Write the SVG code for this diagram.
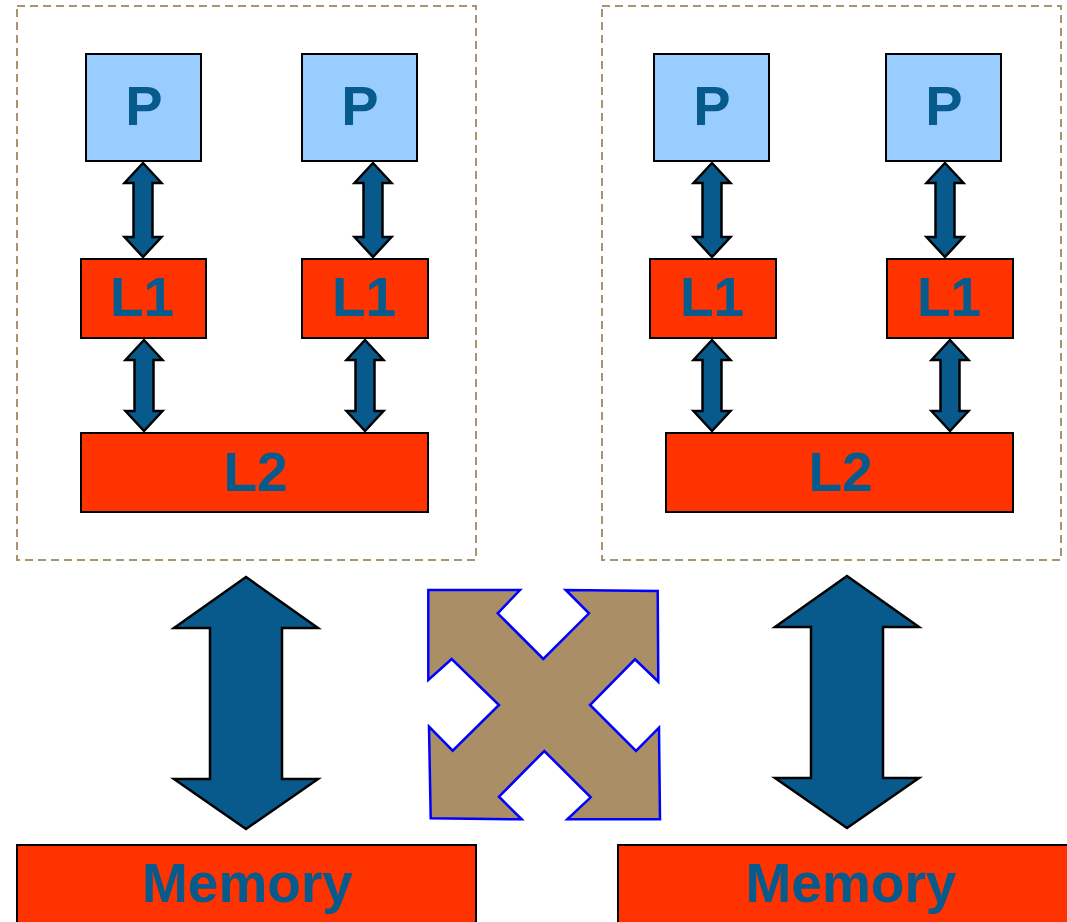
<svg xmlns="http://www.w3.org/2000/svg" xmlns:xlink="http://www.w3.org/1999/xlink" width="1067" height="922" viewBox="0 0 1067 922">
<style>
.cluster{fill:none;stroke:#AA9370;stroke-width:2;stroke-dasharray:8,5}
.p{fill:#99CCFF;stroke:#000;stroke-width:2}
.red{fill:#FF3300;stroke:#000;stroke-width:2}
.t{font-family:"Liberation Sans",Arial,sans-serif;font-weight:bold;fill:#065A8C;text-anchor:middle}
.arr{fill:#085A8C;stroke:#000;stroke-width:2.5;stroke-linejoin:miter}
.cross{fill:#AA8E66;stroke:#0000FF;stroke-width:2.5}
</style>
<defs>
<path id="sa" d="M0,0 L18.5,20 L9.5,20 L9.5,74 L18.5,74 L0,94 L-18.5,74 L-9.5,74 L-9.5,20 L-18.5,20 Z"/>
<path id="sb" d="M0,0 L18.5,20 L9.5,20 L9.5,71 L18.5,71 L0,91 L-18.5,71 L-9.5,71 L-9.5,20 L-18.5,20 Z"/>
<path id="big" d="M0,0 L72,51 L36,51 L36,202 L72,202 L0,252 L-72,202 L-36,202 L-36,51 L-72,51 Z"/>
</defs>
<g id="cluster-left"><rect class="cluster" x="17" y="6" width="459" height="554"/></g>
<g id="cluster-right"><rect class="cluster" x="602" y="6" width="459" height="554"/></g>
<g id="p1"><rect class="p" x="86" y="54" width="115" height="107"/><text class="t" x="144" y="125" font-size="56">P</text></g>
<g id="p2"><rect class="p" x="302" y="54" width="115" height="107"/><text class="t" x="360" y="125" font-size="56">P</text></g>
<g id="p3"><rect class="p" x="654" y="54" width="115" height="107"/><text class="t" x="712" y="125" font-size="56">P</text></g>
<g id="p4"><rect class="p" x="886" y="54" width="115" height="107"/><text class="t" x="944" y="125" font-size="56">P</text></g>
<g id="l1a"><rect class="red" x="81" y="259" width="125" height="79"/><text class="t" x="142" y="316" font-size="55">L1</text></g>
<g id="l1b"><rect class="red" x="302" y="259" width="126" height="79"/><text class="t" x="364" y="316" font-size="55">L1</text></g>
<g id="l1c"><rect class="red" x="650" y="259" width="126" height="79"/><text class="t" x="712" y="316" font-size="55">L1</text></g>
<g id="l1d"><rect class="red" x="887" y="259" width="126" height="79"/><text class="t" x="949" y="316" font-size="55">L1</text></g>
<g id="l2a"><rect class="red" x="81" y="433" width="347" height="79"/><text class="t" x="255.5" y="491" font-size="55">L2</text></g>
<g id="l2b"><rect class="red" x="666" y="433" width="347" height="79"/><text class="t" x="840.5" y="491" font-size="55">L2</text></g>
<g id="mem1"><rect class="red" x="17" y="845" width="459" height="90"/><text class="t" x="247.5" y="902" font-size="55">Memory</text></g>
<g id="mem2"><rect class="red" x="618" y="845" width="460" height="90"/><text class="t" x="851" y="902" font-size="55">Memory</text></g>
<g id="interconnect"><path class="cross" d="M428.3,590 L520,590 L497.7,613.3 L543.3,659 L589,613.3 L565.7,590 L657.7,591 L658.3,681.7 L635,659.3 L590,705 L636,751 L659,727.7 L660,819.3 L567.3,819.3 L590.7,797.3 L544.3,751 L499,796.7 L521.7,819.3 L430.7,818.3 L429,726.7 L452.7,750.7 L499,705 L451.7,659 L428.3,680 Z"/></g>
<g id="connectors">
<use xlink:href="#sa" class="arr" transform="translate(143,163)"/>
<use xlink:href="#sa" class="arr" transform="translate(373,163)"/>
<use xlink:href="#sa" class="arr" transform="translate(712,163)"/>
<use xlink:href="#sa" class="arr" transform="translate(945,163)"/>
<use xlink:href="#sb" class="arr" transform="translate(144,340)"/>
<use xlink:href="#sb" class="arr" transform="translate(365,340)"/>
<use xlink:href="#sb" class="arr" transform="translate(712,340)"/>
<use xlink:href="#sb" class="arr" transform="translate(950,340)"/>
<use xlink:href="#big" class="arr" transform="translate(246,577)"/>
<use xlink:href="#big" class="arr" transform="translate(847,576)"/>
</g>
</svg>
